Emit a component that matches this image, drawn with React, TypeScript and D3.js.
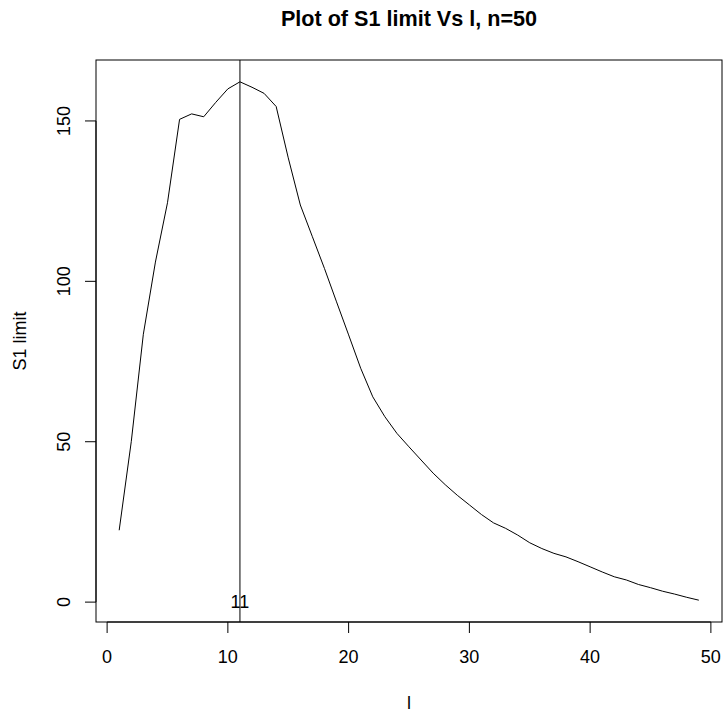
import React, { useEffect, useRef } from 'react';
import * as d3 from 'd3';

// S1 limit for l = 1..49 (n = 50)
const s1Limit = [
  22.4, 50, 83.5, 106, 124.5, 150.5, 152.2, 151.3, 155.8, 160,
  162.2, 160.5, 158.6, 154.5, 138.5, 123.8, 113.9, 104, 93.6, 83.3,
  72.9, 64, 57.8, 52.6, 48.4, 44.3, 40.2, 36.6, 33.3, 30.3,
  27.3, 24.7, 23, 20.9, 18.5, 16.7, 15.2, 14.1, 12.6, 11,
  9.4, 7.9, 6.9, 5.5, 4.5, 3.4, 2.5, 1.5, 0.6,
];
const lValues = s1Limit.map((_, i) => i + 1);
const xTicks = [0, 10, 20, 30, 40, 50];
const yTicks = [0, 50, 100, 150];
const markerL = 11;
const title = 'Plot of S1 limit Vs l, n=50';
const xLabel = 'l';
const yLabel = 'S1 limit';

const W = 725, H = 715;
const FONT = '"Liberation Sans", Arial, sans-serif';

export default function App() {
  const ref = useRef<SVGSVGElement>(null);

  useEffect(() => {
    const svg = d3.select(ref.current);
    svg.selectAll('*').remove();

    // plot region (R default style box)
    const left = 96, right = 722, top = 60, bottom = 622;
    const tick = 11;

    const x = d3.scaleLinear().domain([-0.92, 50.92]).range([left, right]);
    const y = d3.scaleLinear().domain([-6.2, 169]).range([bottom, top]);

    svg.append('rect')
      .attr('width', W).attr('height', H).attr('fill', '#fff');

    // title
    svg.append('text')
      .attr('x', (left + right) / 2).attr('y', 18)
      .attr('text-anchor', 'middle').attr('dominant-baseline', 'central')
      .attr('font-family', FONT).attr('font-size', 21.6).attr('font-weight', 'bold')
      .text(title);

    // box
    svg.append('rect')
      .attr('x', left).attr('y', top)
      .attr('width', right - left).attr('height', bottom - top)
      .attr('fill', 'none').attr('stroke', '#000').attr('stroke-width', 1);

    // x axis
    const gx = svg.append('g');
    gx.append('line')
      .attr('x1', x(xTicks[0])).attr('x2', x(xTicks[xTicks.length - 1]))
      .attr('y1', bottom).attr('y2', bottom).attr('stroke', '#000');
    gx.selectAll('line.t').data(xTicks).join('line').attr('class', 't')
      .attr('x1', d => x(d)).attr('x2', d => x(d))
      .attr('y1', bottom).attr('y2', bottom + tick).attr('stroke', '#000');
    gx.selectAll('text').data(xTicks).join('text')
      .attr('x', d => x(d)).attr('y', 657)
      .attr('text-anchor', 'middle').attr('dominant-baseline', 'central')
      .attr('font-family', FONT).attr('font-size', 18)
      .text(d => d);

    // y axis
    const gy = svg.append('g');
    gy.append('line')
      .attr('x1', left).attr('x2', left)
      .attr('y1', y(yTicks[0])).attr('y2', y(yTicks[yTicks.length - 1])).attr('stroke', '#000');
    gy.selectAll('line.t').data(yTicks).join('line').attr('class', 't')
      .attr('x1', left - tick).attr('x2', left)
      .attr('y1', d => y(d)).attr('y2', d => y(d)).attr('stroke', '#000');
    gy.selectAll('text').data(yTicks).join('text')
      .attr('transform', d => `translate(64,${y(d)}) rotate(-90)`)
      .attr('text-anchor', 'middle').attr('dominant-baseline', 'central')
      .attr('font-family', FONT).attr('font-size', 18)
      .text(d => d);

    // axis titles
    svg.append('text')
      .attr('x', (left + right) / 2).attr('y', 703)
      .attr('text-anchor', 'middle').attr('dominant-baseline', 'central')
      .attr('font-family', FONT).attr('font-size', 18)
      .text(xLabel);
    svg.append('text')
      .attr('transform', `translate(20,${(top + bottom) / 2}) rotate(-90)`)
      .attr('text-anchor', 'middle').attr('dominant-baseline', 'central')
      .attr('font-family', FONT).attr('font-size', 18)
      .text(yLabel);

    // curve
    const line = d3.line<number>()
      .x((_, i) => x(lValues[i]))
      .y(d => y(d));
    svg.append('path')
      .attr('d', line(s1Limit))
      .attr('fill', 'none').attr('stroke', '#000').attr('stroke-width', 1);

    // vertical marker at the maximum and its label
    svg.append('line')
      .attr('x1', x(markerL)).attr('x2', x(markerL))
      .attr('y1', top).attr('y2', bottom)
      .attr('stroke', '#000').attr('stroke-width', 1);
    svg.append('text')
      .attr('x', x(markerL)).attr('y', y(0))
      .attr('text-anchor', 'middle').attr('dominant-baseline', 'central')
      .attr('font-family', FONT).attr('font-size', 18)
      .text(markerL);
  }, []);

  return (
    <svg ref={ref} width={W} height={H}
      style={{ position: 'absolute', left: 0, top: 0, display: 'block' }} />
  );
}
